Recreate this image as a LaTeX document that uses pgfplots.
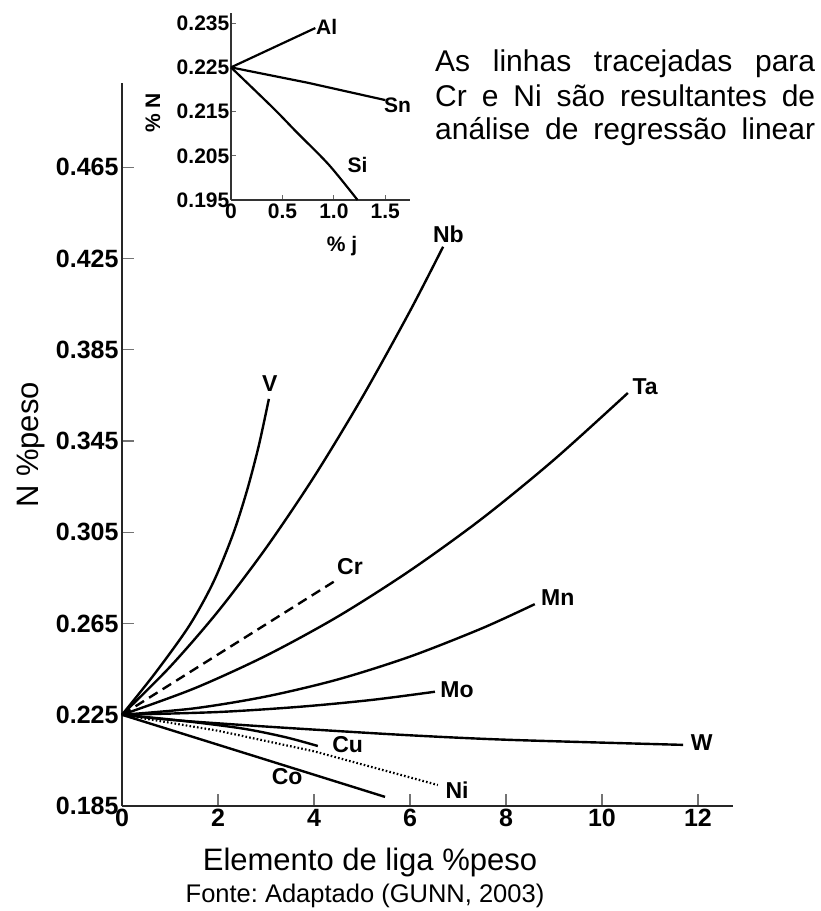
\documentclass[border=0pt]{standalone}
\usepackage{pgfplots}
\pgfplotsset{compat=1.18}
\usepackage{fontspec}
\setmainfont{Liberation Sans}
\frenchspacing

\newcommand\ticksfont{\fontsize{25}{27}\selectfont\bfseries}
\newcommand\insetfont{\fontsize{21}{23}\selectfont\bfseries}
\newcommand\curvefont{\fontsize{23}{25}\selectfont\bfseries}
\newcommand\labelfont{\fontsize{31}{34}\selectfont}
\newcommand\notefont{\fontsize{30}{34}\selectfont}
\newcommand\srcfont{\fontsize{25.5}{28}\selectfont}

\tikzset{curve/.style={black, line width=2.4pt, mark=none}}

\begin{document}
\begin{tikzpicture}
\path[use as bounding box] (-122pt,-105pt) rectangle (699pt,806pt);

% main diagram: nitrogen solubility against alloying element content
\begin{axis}[
  at={(0pt,0pt)}, anchor=south west,
  width=611pt, height=723pt, scale only axis,
  xmin=0, xmax=12.73, ymin=0.185, ymax=0.502,
  axis lines=left,
  axis line style={line width=1.8pt, black!85, -},
  tick align=inside,
  xtick={0,2,4,6,8,10,12},
  ytick={0.185,0.225,0.265,0.305,0.345,0.385,0.425,0.465},
  yticklabels={0.185,0.225,0.265,0.305,0.345,0.385,0.425,0.465},
  major tick length=12pt,
  tick style={line width=1.2pt, black!55},
  ticklabel style={font=\ticksfont},
  /pgf/number format/assume math mode=true,
  clip=false,
]
% V
\addplot[curve, smooth] coordinates {(0,0.225) (0.7,0.2435) (1.4,0.2640) (1.9,0.2830) (2.31,0.3040) (2.6,0.3230) (2.85,0.3430) (3.06,0.3635)};
% Nb
\addplot[curve, smooth] coordinates {(0,0.225) (1,0.2460) (2,0.2703) (3,0.2981) (4,0.3293) (5,0.3640) (6,0.4020) (6.69,0.4302)};
% Cr (linear regression, dashed)
\addplot[curve, dash pattern=on 10pt off 6pt] coordinates {(0,0.225) (4.47,0.2841)};
% Ta
\addplot[curve, smooth] coordinates {(0,0.225) (1.5,0.2365) (3,0.2509) (4.5,0.2681) (6,0.2882) (7.5,0.3110) (9,0.3368) (10.54,0.3661)};
% Mn
\addplot[curve, smooth] coordinates {(0,0.225) (1.5,0.2278) (3,0.2330) (4.5,0.2405) (6,0.2505) (7.5,0.2629) (8.6,0.2735)};
% Mo
\addplot[curve, smooth] coordinates {(0,0.225) (2.0,0.2262) (3.7,0.2285) (5.2,0.2315) (6.52,0.2351)};
% W
\addplot[curve, smooth] coordinates {(0,0.225) (1.0,0.2228) (2.52,0.2205) (4.0,0.2185) (6.0,0.2160) (8.08,0.2140) (11.69,0.2118)};
% Cu
\addplot[curve, smooth] coordinates {(0,0.225) (1.2,0.2225) (2.5,0.2190) (3.4,0.2152) (4.08,0.2113)};
% Ni (linear regression, dotted)
\addplot[curve, line width=2.2pt, dash pattern=on 1.6pt off 2.2pt] coordinates {(0,0.225) (2.0,0.2180) (4.0,0.2090) (6.58,0.1942)};
% Co
\addplot[curve] coordinates {(0,0.225) (5.48,0.1890)};

\node[font=\curvefont] at (axis cs:3.08,0.3700) {V};
\node[font=\curvefont] at (axis cs:6.80,0.4355) {Nb};
\node[font=\curvefont] at (axis cs:10.90,0.3688) {Ta};
\node[font=\curvefont] at (axis cs:4.75,0.2898) {Cr};
\node[font=\curvefont] at (axis cs:9.08,0.2762) {Mn};
\node[font=\curvefont] at (axis cs:6.98,0.2359) {Mo};
\node[font=\curvefont] at (axis cs:12.08,0.2126) {W};
\node[font=\curvefont] at (axis cs:4.70,0.2118) {Cu};
\node[font=\curvefont] at (axis cs:6.98,0.1920) {Ni};
\node[font=\curvefont] at (axis cs:3.44,0.1977) {Co};
\end{axis}

% inset: Al, Sn, Si
\begin{axis}[
  at={(109pt,606pt)}, anchor=south west,
  width=179pt, height=187pt, scale only axis,
  xmin=0, xmax=1.74, ymin=0.195, ymax=0.2373,
  axis lines=left,
  axis line style={line width=1.5pt, black!80, -},
  tick align=inside,
  xtick={0,0.5,1,1.5}, xticklabels={0,0.5,1.0,1.5},
  ytick={0.195,0.205,0.215,0.225,0.235},
  yticklabels={0.195,0.205,0.215,0.225,0.235},
  major tick length=5pt,
  tick style={line width=1pt, black!60},
  ticklabel style={font=\insetfont},
  yticklabel style={inner sep=1.5pt},
  xticklabel style={inner sep=1pt, yshift=-3pt},
  /pgf/number format/assume math mode=true,
  clip=false,
]
\addplot[curve, line width=2.2pt] coordinates {(0,0.225) (0.82,0.2339)};
\addplot[curve, line width=2.2pt] coordinates {(0,0.225) (0.75,0.2215) (1.50,0.2176)};
\addplot[curve, line width=2.2pt, smooth] coordinates {(0,0.225) (0.41,0.2158) (0.64,0.2103) (0.95,0.2030) (1.23,0.195)};
\node[font=\insetfont] at (axis cs:0.93,0.2341) {Al};
\node[font=\insetfont] at (axis cs:1.62,0.2165) {Sn};
\node[font=\insetfont] at (axis cs:1.23,0.2029) {Si};
\end{axis}
\node[font=\insetfont, rotate=90] at (31pt,693pt) {\% N};
\node[font=\insetfont] at (220pt,560pt) {\% j};

% axis titles and source line
\node[font=\labelfont, rotate=90, anchor=base] at (-83pt,361pt) {N \%peso};
\node[font=\labelfont, anchor=base] at (248pt,-64pt) {Elemento de liga \%peso};
\node[font=\srcfont, anchor=base] at (243pt,-96pt) {Fonte: Adaptado (GUNN, 2003)};

% note on the regression lines
\node[font=\notefont, anchor=base west, inner sep=0pt] at (313pt,734pt) {\makebox[380pt][s]{As linhas tracejadas para}};
\node[font=\notefont, anchor=base west, inner sep=0pt] at (313pt,699pt) {\makebox[380pt][s]{Cr e Ni são resultantes de}};
\node[font=\notefont, anchor=base west, inner sep=0pt] at (313pt,666pt) {\makebox[380pt][s]{análise de regressão linear}};
\end{tikzpicture}
\end{document}
